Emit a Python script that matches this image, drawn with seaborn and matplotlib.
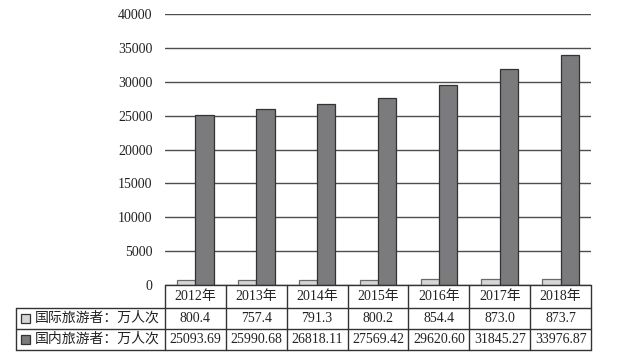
import matplotlib
matplotlib.use("Agg")
import matplotlib.pyplot as plt
import matplotlib.transforms as mtransforms
from matplotlib.lines import Line2D
from matplotlib.patches import Rectangle
import seaborn as sns
import pandas as pd

years = ["2012年", "2013年", "2014年", "2015年", "2016年", "2017年", "2018年"]
intl = [800.4, 757.4, 791.3, 800.2, 854.4, 873.0, 873.7]
dom = [25093.69, 25990.68, 26818.11, 27569.42, 29620.60, 31845.27, 33976.87]
intl_text = ["800.4", "757.4", "791.3", "800.2", "854.4", "873.0", "873.7"]
dom_text = ["25093.69", "25990.68", "26818.11", "27569.42", "29620.60", "31845.27", "33976.87"]
series = ["国际旅游者：万人次", "国内旅游者：万人次"]
yticks = [0, 5000, 10000, 15000, 20000, 25000, 30000, 35000, 40000]

sns.set_style("white")
plt.rcParams['font.family'] = ['Liberation Serif', 'Noto Sans CJK SC', 'DejaVu Sans']

df = pd.DataFrame({
    "year": years * 2,
    "series": [series[0]] * len(years) + [series[1]] * len(years),
    "value": intl + dom,
})

W, H = 618, 363
fig = plt.figure(figsize=(W / 100, H / 100), dpi=100)
x0, x1 = 165, 591
y_top, y_zero = 14.3, 285
ax = fig.add_axes([x0 / W, (H - y_zero) / H, (x1 - x0) / W, (y_zero - y_top) / H])

colors = {series[0]: "#d6d6d6", series[1]: "#7b7b7e"}
sns.barplot(data=df, x="year", y="value", hue="series", palette=colors,
            width=0.6, gap=0, ax=ax, legend=False, zorder=3)
for i, p in enumerate(ax.patches):
    if abs(p.get_height()) < 1e-9:
        continue
    p.set_edgecolor("#6a6a6a" if p.get_facecolor()[0] > 0.6 else "#333333")
    p.set_linewidth(0.9)

ax.set_ylim(0, 40000)
ax.set_xlim(-0.5, 6.5)
ax.set_yticks(yticks)
ax.set_yticklabels([str(v) for v in yticks], fontsize=10, color="#222222")
ax.set_xticks([])
ax.set_xlabel("")
ax.set_ylabel("")
ax.tick_params(axis="y", length=0, pad=9)
ax.yaxis.grid(True, color="#4d4d4d", linewidth=1.0, zorder=0)
ax.set_axisbelow(True)
for s in ax.spines.values():
    s.set_visible(False)

# table drawn below the axes
tr = mtransforms.blended_transform_factory(ax.transData, fig.transFigure)
def fy(y):
    return 1 - y / H
def fx(x):
    return x / W

lc = "#333333"
lw = 1.0
rows_y = [285, 307.5, 329, 349.5]
left_edge = 16
# horizontal lines
fig.add_artist(Line2D([fx(x0), fx(x1)], [fy(rows_y[0])] * 2, color=lc, lw=lw, transform=fig.transFigure))
for yy in rows_y[1:]:
    fig.add_artist(Line2D([fx(left_edge), fx(x1)], [fy(yy)] * 2, color=lc, lw=lw, transform=fig.transFigure))
# left border
fig.add_artist(Line2D([fx(left_edge)] * 2, [fy(rows_y[1]), fy(rows_y[3])], color=lc, lw=lw, transform=fig.transFigure))
# column borders
for i in range(len(years) + 1):
    xb = i - 0.5
    fig.add_artist(Line2D([xb, xb], [fy(rows_y[0]), fy(rows_y[3])], color=lc, lw=lw, transform=tr))

# cell text
for i, yr in enumerate(years):
    fig.text(i, fy((rows_y[0] + rows_y[1]) / 2), yr, transform=tr, ha="center", va="center", fontsize=10, color="#222222")
    fig.text(i, fy((rows_y[1] + rows_y[2]) / 2), intl_text[i], transform=tr, ha="center", va="center", fontsize=10, color="#222222")
    fig.text(i, fy((rows_y[2] + rows_y[3]) / 2), dom_text[i], transform=tr, ha="center", va="center", fontsize=10, color="#222222")

# row labels with legend squares
for k, name in enumerate(series):
    yc = (rows_y[k + 1] + rows_y[k + 2]) / 2
    sq = 9
    fig.add_artist(Rectangle((fx(21), fy(yc + sq / 2)), sq / W, sq / H,
                             facecolor=colors[name], edgecolor="#333333", lw=0.9,
                             transform=fig.transFigure))
    fig.text(fx(35), fy(yc), name, ha="left", va="center", fontsize=10, color="#222222")

fig.savefig("out.png", dpi=100)
